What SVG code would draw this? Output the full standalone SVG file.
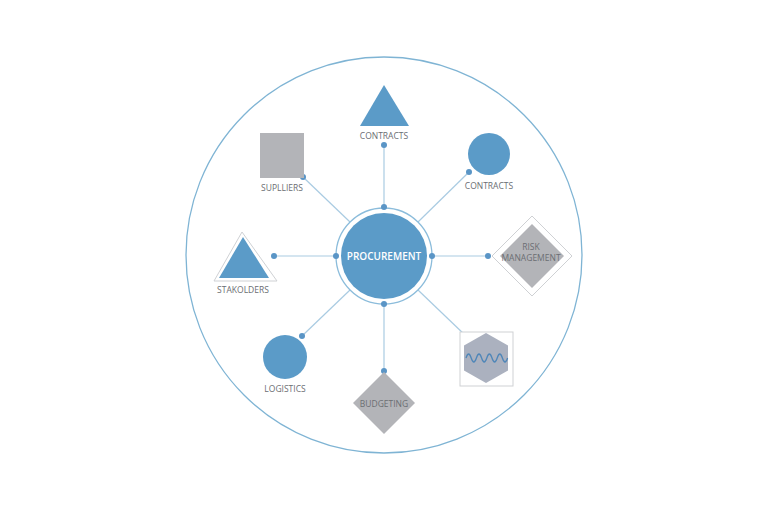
<svg xmlns="http://www.w3.org/2000/svg" width="768" height="512" viewBox="0 0 768 512">
<style>
.lbl{font-family:"Open Sans","Liberation Sans",sans-serif;font-size:8.5px;fill:#6b6e73;text-anchor:middle}
.blue{fill:#5b9bc8}
.gray{fill:#b3b4b8}
.ln{stroke:#a9cbe2;stroke-width:1.2;fill:none}
.dot{fill:#5a95c6}
</style>
<rect width="768" height="512" fill="#ffffff"/>
<circle cx="384" cy="255" r="198" fill="none" stroke="#7fb4d4" stroke-width="1.3"/>
<g id="connectors">
<line class="ln" x1="384" y1="145" x2="384" y2="207"/>
<line class="ln" x1="303" y1="177" x2="350" y2="222"/>
<line class="ln" x1="469" y1="172" x2="418" y2="222"/>
<line class="ln" x1="274" y1="256" x2="336" y2="256"/>
<line class="ln" x1="432" y1="256" x2="488" y2="256"/>
<line class="ln" x1="302" y1="336" x2="350" y2="290"/>
<line class="ln" x1="384" y1="304" x2="384" y2="371"/>
<line class="ln" x1="466" y1="336" x2="418" y2="290"/>
<circle class="dot" cx="384" cy="145" r="3"/>
<circle class="dot" cx="303" cy="177" r="3"/>
<circle class="dot" cx="469" cy="172" r="3"/>
<circle class="dot" cx="274" cy="256" r="3"/>
<circle class="dot" cx="488" cy="256" r="3"/>
<circle class="dot" cx="302" cy="336" r="3"/>
<circle class="dot" cx="384" cy="371" r="3"/>
<circle class="dot" cx="466" cy="336" r="3"/>
</g>
<g id="procurement">
<circle cx="384" cy="256" r="48" fill="#fff" stroke="#8bbcdb" stroke-width="1.3"/>
<circle cx="384" cy="256" r="43" class="blue"/>
<circle class="dot" cx="384" cy="207" r="3"/>
<circle class="dot" cx="384" cy="304" r="3"/>
<circle class="dot" cx="336" cy="256" r="3"/>
<circle class="dot" cx="432" cy="256" r="3"/>
<text x="384" y="260" font-family="Open Sans, Liberation Sans, sans-serif" font-size="10" font-weight="600" fill="#ffffff" text-anchor="middle">PROCUREMENT</text>
</g>
<g id="contracts-top">
<polygon points="384,85 409,126 360,126" class="blue"/>
<text class="lbl" x="384" y="139">CONTRACTS</text>
</g>
<g id="suppliers">
<rect x="260" y="133" width="44" height="45" class="gray"/>
<text class="lbl" x="282" y="191">SUPLLIERS</text>
</g>
<g id="contracts-right">
<circle cx="489" cy="154" r="21" class="blue"/>
<text class="lbl" x="489" y="189">CONTRACTS</text>
</g>
<g id="stakolders">
<polygon points="242,232 277,281 214,281" fill="#fff" stroke="#cfd1d4" stroke-width="1"/>
<polygon points="243,237 269,278 219,278" class="blue"/>
<text class="lbl" x="243" y="293">STAKOLDERS</text>
</g>
<g id="risk">
<polygon points="532,216 572,256 532,296 492,256" fill="#fff" stroke="#cfd1d4" stroke-width="1"/>
<polygon points="532,224 564,256 532,288 500,256" class="gray"/>
<text class="lbl" x="531" y="250">RISK</text>
<text class="lbl" x="531" y="261">MANAGEMENT</text>
</g>
<g id="logistics">
<circle cx="285" cy="357" r="22" class="blue"/>
<text class="lbl" x="285" y="392">LOGISTICS</text>
</g>
<g id="budgeting">
<polygon points="384,372 415,403 384,434 353,403" class="gray"/>
<text class="lbl" x="384" y="407">BUDGETING</text>
</g>
<g id="risk-wave">
<rect x="460" y="332" width="53" height="54" fill="#fff" stroke="#cfd1d4" stroke-width="1"/>
<polygon points="486,333 508,345.5 508,370.5 486,383 464,370.5 464,345.5" fill="#abb1bf"/>
<path d="M466,358 q2.6,-8 5.2,0 t5.2,0 t5.2,0 t5.2,0 t5.2,0 t5.2,0 t5.2,0 t5.2,0" fill="none" stroke="#4f86b8" stroke-width="1.3"/>
</g>
</svg>
